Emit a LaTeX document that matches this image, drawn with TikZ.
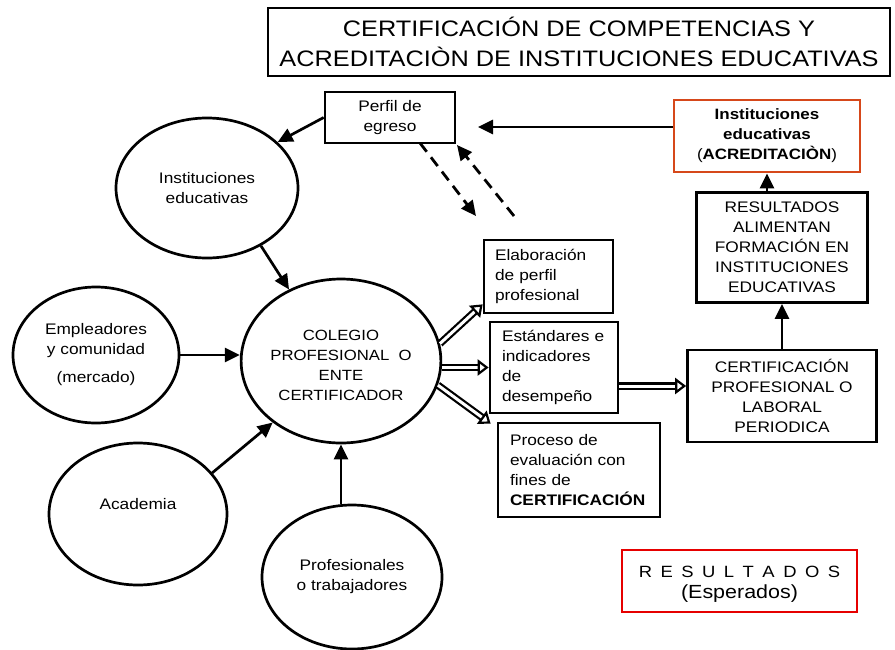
\documentclass[tikz,border=0pt]{standalone}
\usepackage{fontspec}
\setmainfont[FakeStretch=1.13]{Liberation Sans}
\usetikzlibrary{shapes.geometric,arrows.meta,calc}
\definecolor{acrcol}{RGB}{214,72,26}
\definecolor{rescol}{RGB}{230,0,0}
\newcommand{\gapR}{\hspace{8.5pt}}
\begin{document}
\begin{tikzpicture}[x=1pt,y=-1pt,
  txt/.style={font=\fontsize{15.3}{20}\selectfont},
  ell/.style={ellipse, draw, line width=2.7pt, inner sep=0pt, align=center, txt},
  box/.style={draw, line width=2.7pt, inner sep=0pt, align=center, txt},
  lbox/.style={draw, line width=2.7pt, inner xsep=11pt, inner ysep=0pt, align=left, txt},
  arr/.style={line width=2.7pt, -{Triangle[length=15pt,width=14pt]}},
  dbl/.style={double=white, double distance=3pt, line width=2.2pt, -{Triangle[open,length=11pt,width=16pt,line width=2.2pt]}},
  dsh/.style={line width=2.8pt, dash pattern=on 11pt off 7pt, -{Triangle[length=15pt,width=14pt]}},
]
\useasboundingbox (0,0) rectangle (895,649);

% title
\node[draw, line width=2.7pt, minimum width=622pt, minimum height=68pt, align=center,
      font=\fontsize{22.4}{30}\selectfont] (title) at (579,42)
  {CERTIFICACIÓN DE COMPETENCIAS Y\\ACREDITACIÒN DE INSTITUCIONES EDUCATIVAS};

% ellipses
\node[ell, minimum width=182pt, minimum height=140pt] (inst) at (207,188) {Instituciones\\educativas};
\node[ell, minimum width=198pt, minimum height=164pt, font=\fontsize{14.8}{20}\selectfont] (col) at (341,361) {~\\COLEGIO\\PROFESIONAL \ O\\ENTE\\CERTIFICADOR};
\node[ell, minimum width=166pt, minimum height=136pt] (emp) at (96,355) {Empleadores\\y comunidad\\[8pt](mercado)};
\node[ell, minimum width=178pt, minimum height=142pt] (acad) at (138,514) {Academia\\~};
\node[ell, minimum width=180pt, minimum height=144pt] (prof) at (352,577) {Profesionales\\o trabajadores};

% boxes
\node[box, minimum width=130pt, minimum height=51pt] (perfil) at (390,117.5) {Perfil de\\egreso};
\node[box, draw=acrcol, minimum width=186pt, minimum height=72pt, font=\fontsize{15}{20}\selectfont] (acr) at (767,136)
  {\textbf{Instituciones}\\\textbf{educativas}\\(\textbf{ACREDITACIÒN})};
\node[box, minimum width=171pt, minimum height=110pt] (res) at (782,247.5)
  {RESULTADOS\\ALIMENTAN\\FORMACIÓN EN\\INSTITUCIONES\\EDUCATIVAS};
\node[box, minimum width=189pt, minimum height=92pt] (cert) at (782,396)
  {CERTIFICACIÓN\\PROFESIONAL O\\LABORAL\\PERIODICA};
\node[lbox, text width=107pt, minimum height=73pt] (elab) at (548.5,276.5)
  {Elaboración\\de perfil\\profesional};
\node[lbox, inner xsep=12pt, text width=104pt, minimum height=91pt] (est) at (554,367.5)
  {Estándares e\\indicadores\\de\\desempeño};
\node[lbox, inner xsep=12pt, text width=138pt, minimum height=94pt] (proc) at (579,470)
  {Proceso de\\evaluación con\\fines de\\\textbf{CERTIFICACIÓN}};
\node[box, draw=rescol, minimum width=235pt, minimum height=62pt, font=\fontsize{16.3}{21}\selectfont] (esp) at (739.5,581)
  {\rule{0pt}{18pt}R\gapR E\gapR S\gapR U\gapR L\gapR T\gapR A\gapR D\gapR O\gapR S\\{\fontsize{19}{21}\selectfont(Esperados)}};

% connectors into COLEGIO
\draw[arr] (inst.-47) -- (col.126);
\draw[arr] (emp.east) -- (emp.east -| col.west);
\draw[arr] (acad.29) -- (col.222);
\draw[arr] (prof.north -| col.south) -- (col.south);

% perfil connectors
\draw[arr] (perfil.west) -- (inst.33);
\coordinate (pin) at (478,127);
\draw[arr] (acr.west |- pin) -- (pin);
\coordinate (d1s) at (420,143);
\coordinate (d1e) at (476,216);
\coordinate (d2s) at (514,216);
\coordinate (d2e) at (457,145);
\draw[dsh] (d1s) -- (d1e);
\draw[dsh] (d2s) -- (d2e);

% double arrows
\draw[dbl] (col.10) -- ($(elab.south west)+(0,-10)$);
\draw[dbl] (est.west -| col.east) -- (est.west);
\draw[dbl] (col.-14) -- ($(proc.north west)+(-6,2)$);
\coordinate (crow) at ($(cert.west)+(0,-10)$);
\draw[dbl] (est.east |- crow) -- (crow);

% right column
\draw[arr] (cert.north) -- (res.south);
\draw[arr] (res.north -| acr.south) -- (acr.south);
\end{tikzpicture}
\end{document}
